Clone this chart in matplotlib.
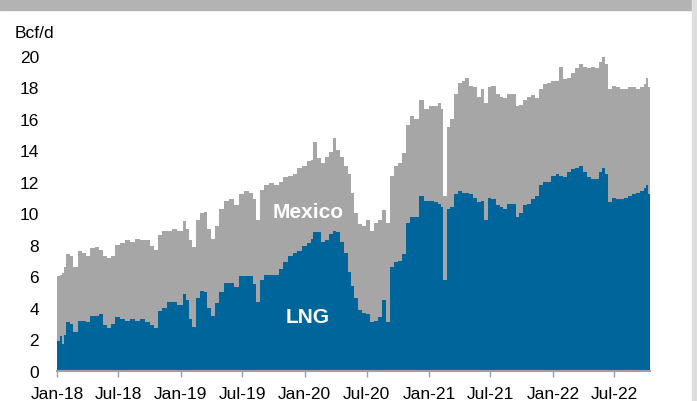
import matplotlib
matplotlib.use("Agg")
import matplotlib.pyplot as plt
from matplotlib.patches import Rectangle
import pandas as pd

# === Dados ===
dates = [
    "2018-01-01", "2018-01-10", "2018-01-16", "2018-01-22", "2018-01-28", "2018-02-08",
    "2018-02-17", "2018-03-03", "2018-03-15", "2018-03-27", "2018-04-08", "2018-04-23",
    "2018-05-04", "2018-05-16", "2018-05-28", "2018-06-09", "2018-06-20", "2018-07-05",
    "2018-07-20", "2018-08-04", "2018-08-18", "2018-09-02", "2018-09-17", "2018-10-02",
    "2018-10-13", "2018-10-25", "2018-11-06", "2018-11-21", "2018-12-05", "2018-12-20",
    "2019-01-07", "2019-01-16", "2019-01-25", "2019-02-03", "2019-02-15", "2019-02-27",
    "2019-03-11", "2019-03-19", "2019-03-31", "2019-04-12", "2019-04-24", "2019-05-09",
    "2019-05-23", "2019-06-07", "2019-06-22", "2019-07-06", "2019-07-21", "2019-08-02",
    "2019-08-11", "2019-08-22", "2019-09-03", "2019-09-18", "2019-10-02", "2019-10-17",
    "2019-10-29", "2019-11-13", "2019-11-28", "2019-12-09", "2019-12-24", "2020-01-07",
    "2020-01-19", "2020-01-25", "2020-02-06", "2020-02-17", "2020-02-29", "2020-03-12",
    "2020-03-24", "2020-04-02", "2020-04-13", "2020-04-25", "2020-05-07", "2020-05-16",
    "2020-05-25", "2020-06-06", "2020-06-18", "2020-06-29", "2020-07-11", "2020-07-23",
    "2020-08-04", "2020-08-16", "2020-08-27", "2020-09-08", "2020-09-20", "2020-10-01",
    "2020-10-13", "2020-10-25", "2020-11-06", "2020-11-17", "2020-12-02", "2020-12-17",
    "2020-12-31", "2021-01-15", "2021-01-27", "2021-02-05", "2021-02-11", "2021-02-23",
    "2021-03-04", "2021-03-15", "2021-03-27", "2021-04-08", "2021-04-17", "2021-04-28",
    "2021-05-10", "2021-05-22", "2021-06-02", "2021-06-11", "2021-06-23", "2021-07-04",
    "2021-07-16", "2021-07-28", "2021-08-08", "2021-08-20", "2021-09-01", "2021-09-13",
    "2021-09-24", "2021-10-06", "2021-10-18", "2021-10-29", "2021-11-10", "2021-11-22",
    "2021-12-04", "2021-12-15", "2021-12-27", "2022-01-10", "2022-01-18", "2022-01-30",
    "2022-02-11", "2022-02-23", "2022-03-07", "2022-03-18", "2022-03-30", "2022-04-11",
    "2022-04-23", "2022-05-04", "2022-05-16", "2022-05-25", "2022-06-03", "2022-06-12",
    "2022-06-24", "2022-07-06", "2022-07-17", "2022-07-29", "2022-08-10", "2022-08-22",
    "2022-09-02", "2022-09-14", "2022-09-26", "2022-10-02", "2022-10-08", "2022-10-14",
]

# topo da área cinza = LNG + México
total = [
    6.0, 6.1, 6.2, 6.6, 7.4, 7.3,
    6.6, 7.6, 7.5, 7.3, 7.8, 7.85,
    7.7, 7.3, 7.15, 7.3, 8.0, 8.1,
    8.3, 8.2, 8.4, 8.3, 8.3, 7.9,
    7.7, 8.6, 8.9, 8.9, 9.0, 8.9,
    9.5, 9.0, 8.3, 7.85, 9.6, 10.0,
    10.1, 9.0, 8.4, 9.2, 10.3, 10.8,
    10.9, 10.5, 11.2, 11.4, 11.3, 10.9,
    9.6, 11.5, 11.8, 11.9, 11.8, 12.0,
    12.3, 12.4, 12.5, 12.9, 13.0, 13.3,
    13.4, 14.5, 13.5, 13.2, 13.6, 13.9,
    14.8, 14.0, 13.6, 13.0, 12.5, 11.3,
    10.0, 9.3, 9.2, 9.6, 8.9, 9.4,
    9.6, 10.2, 9.4, 12.4, 13.0, 13.2,
    13.8, 15.6, 16.2, 16.0, 17.2, 16.6,
    16.8, 16.8, 17.0, 16.6, 11.1, 15.5,
    16.0, 17.6, 18.3, 18.4, 18.6, 18.1,
    18.0, 17.4, 17.9, 17.0, 18.0, 18.1,
    17.6, 17.4, 17.3, 17.6, 17.6, 16.8,
    16.9, 17.2, 17.4, 17.5, 17.3, 17.9,
    18.2, 18.3, 18.4, 18.4, 19.3, 18.5,
    18.6, 18.9, 19.2, 19.5, 19.3, 19.2,
    19.3, 19.2, 19.6, 19.9, 19.5, 17.9,
    18.1, 18.0, 17.9, 17.9, 18.0, 18.0,
    17.9, 18.0, 18.2, 18.6, 18.0, 17.4,
]

lng = [
    1.9, 2.2, 1.7, 2.3, 3.1, 3.0,
    2.5, 3.2, 3.2, 3.1, 3.5, 3.5,
    3.6, 2.9, 2.7, 3.0, 3.4, 3.3,
    3.2, 3.3, 3.2, 3.3, 3.1, 2.9,
    2.7, 3.8, 4.0, 4.4, 4.4, 4.2,
    4.9, 4.5, 3.3, 2.8, 4.6, 5.1,
    5.0, 4.0, 3.5, 4.3, 5.0, 5.6,
    5.6, 5.3, 6.0, 6.0, 6.0, 5.5,
    4.4, 5.8, 6.1, 6.1, 6.1, 6.5,
    6.9, 7.3, 7.5, 7.6, 7.9, 8.1,
    8.4, 8.8, 8.8, 8.2, 8.3, 8.7,
    8.9, 8.8, 8.2, 7.5, 6.3, 5.4,
    4.6, 3.9, 3.7, 3.6, 3.1, 3.2,
    3.4, 4.5, 3.1, 6.6, 6.9, 7.0,
    7.4, 9.4, 9.8, 9.8, 11.1, 10.8,
    10.8, 10.7, 10.6, 10.4, 5.8, 10.3,
    10.4, 11.2, 11.4, 11.3, 11.3, 11.2,
    11.0, 10.7, 10.8, 9.6, 11.0, 10.9,
    10.5, 10.4, 10.3, 10.6, 10.6, 9.8,
    10.0, 10.5, 10.6, 10.9, 11.1, 11.8,
    12.0, 12.0, 12.4, 12.5, 12.4, 12.3,
    12.6, 12.8, 12.9, 13.0, 12.6, 12.3,
    12.2, 12.2, 12.6, 12.9, 12.5, 10.7,
    11.0, 10.9, 10.9, 11.0, 11.1, 11.2,
    11.3, 11.4, 11.6, 11.8, 11.2, 10.8,
]

tick_dates = ["2018-01-01", "2018-07-01", "2019-01-01", "2019-07-01", "2020-01-01",
              "2020-07-01", "2021-01-01", "2021-07-01", "2022-01-01", "2022-07-01"]
tick_labels = ["Jan-18", "Jul-18", "Jan-19", "Jul-19", "Jan-20",
               "Jul-20", "Jan-21", "Jul-21", "Jan-22", "Jul-22"]
y_ticks = [0, 2, 4, 6, 8, 10, 12, 14, 16, 18, 20]

x = pd.to_datetime(dates)

plt.rcParams["font.family"] = ["Liberation Sans", "DejaVu Sans"]

fig = plt.figure(figsize=(6.97, 4.02), dpi=100)
W, H = 697, 402
ax = fig.add_axes([57 / W, 1 - 372 / H, (650 - 57) / W, (372 - 56.7) / H])

azul = "#00659a"
cinza = "#a6a6a6"

# dados diários -> aspecto em degraus
ax.fill_between(x, 0, lng, color=azul, linewidth=0, step="post")
ax.fill_between(x, lng, total, color=cinza, linewidth=0, step="post")

ax.set_xlim(x[0], x[-1])
ax.set_ylim(0, 20)
ax.set_yticks(y_ticks)
ax.set_xticks(pd.to_datetime(tick_dates))
ax.set_xticklabels(tick_labels)

for s in ["top", "right", "left"]:
    ax.spines[s].set_visible(False)
ax.spines["bottom"].set_color("#a0a0a0")
ax.spines["bottom"].set_linewidth(1.5)
ax.spines["bottom"].set_zorder(5)

ax.tick_params(axis="y", length=0, pad=13, labelsize=12.5, labelcolor="black")
ax.tick_params(axis="x", length=4, width=1, color="#a0a0a0", pad=7, labelsize=12.5)

ax.text(pd.Timestamp("2020-01-10"), 10.1, "Mexico", color="white", fontsize=15,
        fontweight="bold", ha="center", va="center")
ax.text(pd.Timestamp("2020-01-10"), 3.45, "LNG", color="white", fontsize=15,
        fontweight="bold", ha="center", va="center")

fig.text(15 / W, 1 - 33 / H, "Bcf/d", fontsize=12.5, ha="left", va="center")

# moldura cinza do slide
fig.patches.append(Rectangle((0, 1 - 11 / H), 691 / W, 11 / H, transform=fig.transFigure,
                             color="#b3b3b3", zorder=0))
fig.patches.append(Rectangle((692 / W, 0), 5 / W, 1, transform=fig.transFigure,
                             color="#dedede", zorder=0))

fig.savefig("out.png", dpi=100)
